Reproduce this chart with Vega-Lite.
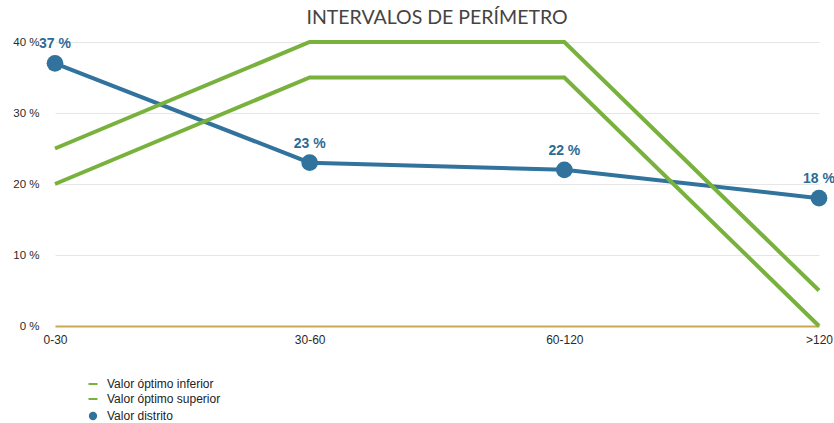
{
  "$schema": "https://vega.github.io/schema/vega-lite/v6.json",
  "width": 764,
  "height": 284,
  "autosize": {"type": "none"},
  "padding": {"left": 55, "top": 42, "right": 15, "bottom": 97},
  "title": {
    "text": "INTERVALOS DE PERÍMETRO",
    "font": "Lato",
    "fontSize": 19.5,
    "fontWeight": "normal",
    "color": "#444444",
    "anchor": "middle",
    "frame": "group",
    "offset": 6
  },
  "data": {
    "values": [
      {"cat": "0-30", "series": "Valor distrito", "value": 37},
      {"cat": "30-60", "series": "Valor distrito", "value": 23},
      {"cat": "60-120", "series": "Valor distrito", "value": 22},
      {"cat": ">120", "series": "Valor distrito", "value": 18},
      {"cat": "0-30", "series": "Valor óptimo inferior", "value": 20},
      {"cat": "30-60", "series": "Valor óptimo inferior", "value": 35},
      {"cat": "60-120", "series": "Valor óptimo inferior", "value": 35},
      {"cat": ">120", "series": "Valor óptimo inferior", "value": 0},
      {"cat": "0-30", "series": "Valor óptimo superior", "value": 25},
      {"cat": "30-60", "series": "Valor óptimo superior", "value": 40},
      {"cat": "60-120", "series": "Valor óptimo superior", "value": 40},
      {"cat": ">120", "series": "Valor óptimo superior", "value": 5}
    ]
  },
  "encoding": {
    "x": {
      "field": "cat",
      "type": "ordinal",
      "sort": ["0-30", "30-60", "60-120", ">120"],
      "scale": {"type": "point", "padding": 0},
      "axis": {
        "title": null,
        "labelAngle": 0,
        "ticks": false,
        "domainColor": "#c9a94f",
        "domainWidth": 2,
        "labelPadding": 8,
        "labelFont": "Liberation Sans",
        "labelFontSize": 12,
        "labelColor": "#2a2a2a"
      }
    },
    "y": {
      "field": "value",
      "type": "quantitative",
      "scale": {"domain": [0, 40]},
      "axis": {
        "title": null,
        "values": [0, 10, 20, 30, 40],
        "labelExpr": "datum.value + ' %'",
        "domain": false,
        "ticks": false,
        "gridColor": "#e6e6e6",
        "labelPadding": 16,
        "labelFont": "Liberation Sans",
        "labelFontSize": 11.5,
        "labelColor": "#2a2a2a"
      }
    }
  },
  "layer": [
    {
      "mark": {"type": "line", "strokeWidth": 4},
      "encoding": {
        "color": {
          "field": "series",
          "type": "nominal",
          "scale": {
            "domain": ["Valor óptimo inferior", "Valor óptimo superior", "Valor distrito"],
            "range": ["#78b13b", "#78b13b", "#31739c"]
          },
          "legend": {
            "title": null,
            "orient": "none",
            "legendX": 32,
            "legendY": 336,
            "labelFont": "Liberation Sans",
            "labelFontSize": 12,
            "labelColor": "#222222",
            "rowPadding": 3,
            "symbolSize": 80,
            "symbolStrokeWidth": 2,
            "labelOffset": 8,
            "encode": {
              "symbols": {
                "update": {
                  "shape": {"signal": "datum.value == 'Valor distrito' ? 'circle' : 'stroke'"},
                  "fill": {"signal": "datum.value == 'Valor distrito' ? '#31739c' : 'transparent'"},
                  "size": {"signal": "datum.value == 'Valor distrito' ? 40 : 80"}
                }
              }
            }
          }
        },
        "detail": {"field": "series"}
      }
    },
    {
      "transform": [{"filter": "datum.series == 'Valor distrito'"}],
      "mark": {"type": "point", "filled": true, "opacity": 1, "size": 280, "color": "#31739c"}
    },
    {
      "transform": [
        {"filter": "datum.series == 'Valor distrito'"},
        {"calculate": "datum.value + ' %'", "as": "label"}
      ],
      "mark": {
        "type": "text",
        "dy": -19,
        "font": "Liberation Sans",
        "fontSize": 14,
        "fontWeight": "bold",
        "color": "#2d6b94"
      },
      "encoding": {"text": {"field": "label"}}
    }
  ],
  "config": {"view": {"stroke": null}}
}
